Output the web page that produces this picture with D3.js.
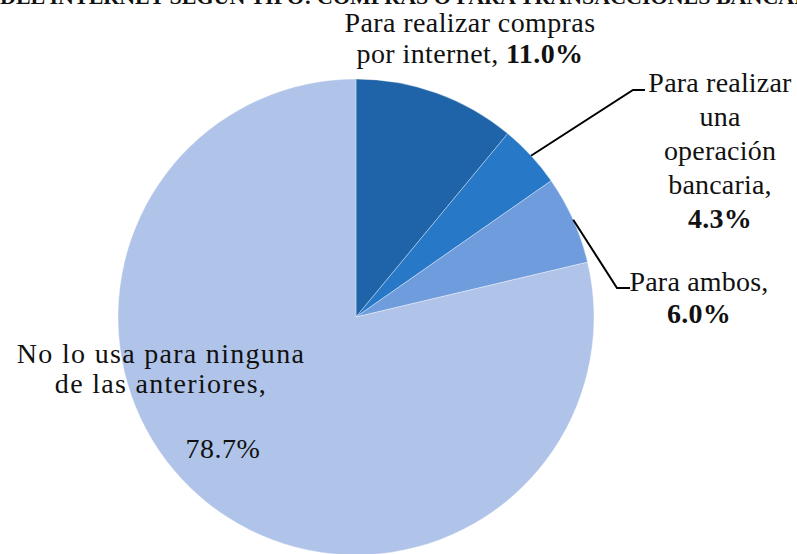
<!DOCTYPE html>
<html><head><meta charset="utf-8">
<script src="https://cdn.jsdelivr.net/npm/d3@7"></script>
<style>body{margin:0;background:#fff}svg{display:block}</style>
</head><body><svg id="c" width="797" height="554"></svg>
<script>
const categories = ["Para realizar compras por internet","Para realizar una operación bancaria","Para ambos","No lo usa para ninguna de las anteriores"];
const values = [11.0, 4.3, 6.0, 78.7];
const colors = ["#1f63a8","#2778c6","#6f9cdc","#b0c4e9"];
const title = "USO DEL INTERNET SEGÚN TIPO: COMPRAS O PARA TRANSACCIONES BANCARIAS";
const FONT = "'Liberation Serif', 'Times New Roman', Tinos, 'DejaVu Serif', serif";

const svg = d3.select("#c");
const cx = 356, cy = 317, R = 238;
const g = svg.append("g").attr("transform",`translate(${cx},${cy})`);
const pie = d3.pie().sort(null).value(d=>d)(values);
const arc = d3.arc().innerRadius(0).outerRadius(R);
g.selectAll("path").data(pie).join("path")
  .attr("d",arc).attr("fill",(d,i)=>colors[i])
  .attr("stroke","rgba(255,255,255,0.35)").attr("stroke-width",1);

// title (cut off at top as in reference)
svg.append("text").attr("x",398).attr("y",4).attr("text-anchor","middle")
  .attr("font-family",FONT).attr("fill","#111")
  .attr("font-size",22).attr("font-weight","bold").text(title);

function pt(d, r){ const a=(d.startAngle+d.endAngle)/2; return [Math.sin(a)*r+cx, -Math.cos(a)*r+cy]; }
function label(lines, x, y0, dy, ls){
  const t = svg.append("text").attr("text-anchor","middle").attr("font-size",28)
    .attr("font-family",FONT).attr("fill","#111").attr("letter-spacing",ls||0);
  lines.forEach((l,i)=>{
    const ts = t.append("tspan").attr("x",x).attr("y",y0+i*dy);
    l.forEach(p=>ts.append("tspan").attr("font-weight",p.b?"bold":null).text(p.t));
  });
}
const pct = v => v.toFixed(1)+"%";

label([[{t:"Para realizar compras"}],[{t:"por internet, "},{t:pct(values[0]),b:1}]],470,32,31,0.4);

const p1 = pt(pie[1], R);
svg.append("polyline").attr("points",[p1,[633,90],[645,90]].map(p=>p.join(",")).join(" "))
  .attr("fill","none").attr("stroke","#000").attr("stroke-width",2);
label([[{t:"Para realizar"}],[{t:"una"}],[{t:"operación"}],[{t:"bancaria,"}],[{t:pct(values[1]),b:1}]],720,92,34,0.2);

const p2 = pt(pie[2], R);
svg.append("polyline").attr("points",[p2,[617,288],[630,288]].map(p=>p.join(",")).join(" "))
  .attr("fill","none").attr("stroke","#000").attr("stroke-width",2);
label([[{t:"Para ambos,"}],[{t:pct(values[2]),b:1}]],699,291,32,0.2);

label([[{t:"No lo usa para ninguna"}],[{t:"de las anteriores,"}]],161,363,30,1.3);
label([[{t:pct(values[3])}]],223,458,0,0.5);
</script></body></html>
